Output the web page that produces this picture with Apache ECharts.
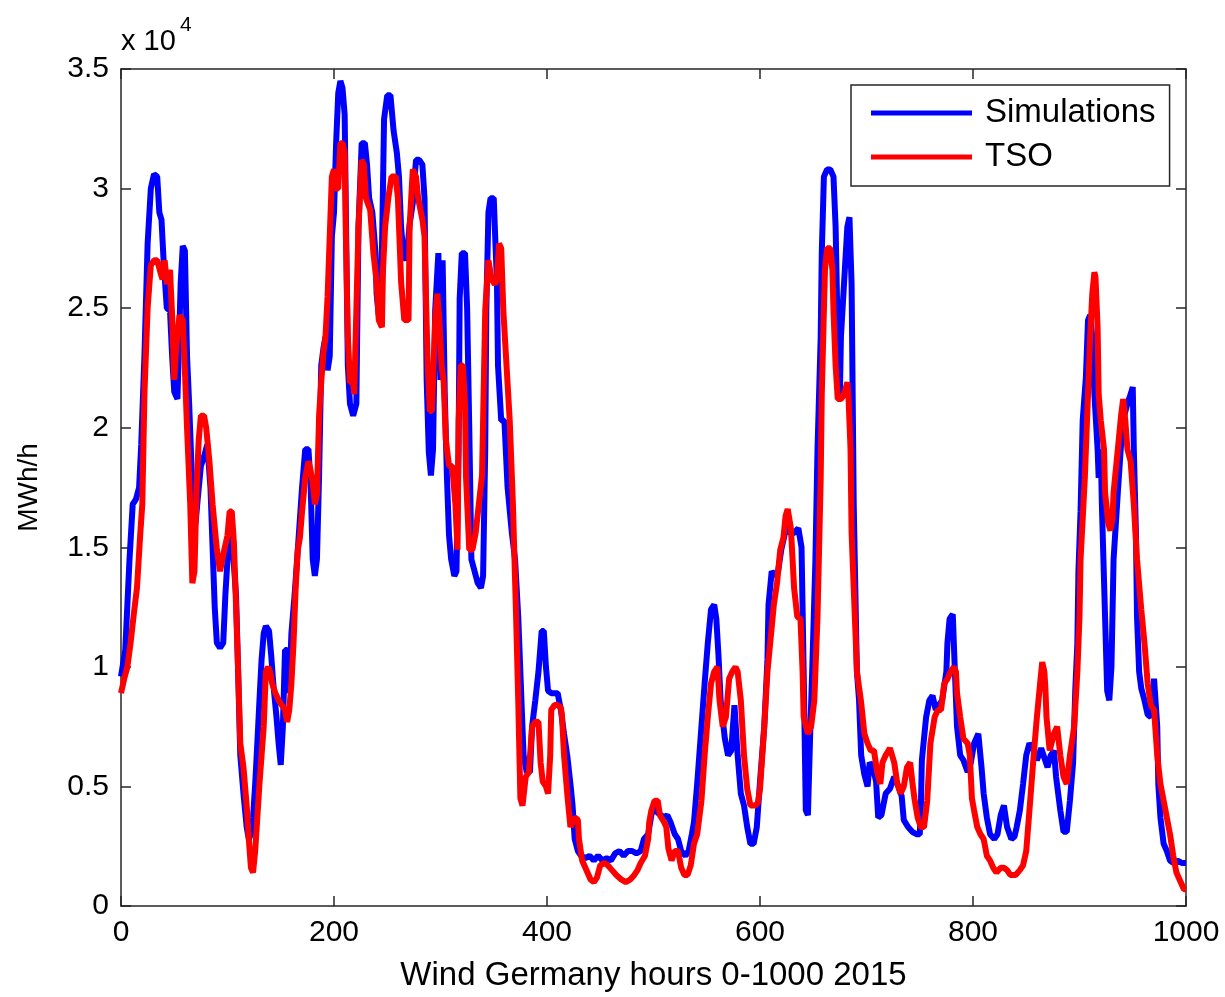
<!DOCTYPE html>
<html><head><meta charset="utf-8">
<script src="https://cdn.jsdelivr.net/npm/echarts/dist/echarts.min.js"></script>
<style>html,body{margin:0;padding:0;background:#fff}#c{width:1225px;height:997px}</style>
</head><body><div id="c"></div><script>
// x axis: hours; y axis: MWh/h in units of 10^4
const xTickValues = [0, 200, 400, 600, 800, 1000];
const yTickValues = [0, 0.5, 1, 1.5, 2, 2.5, 3, 3.5];
const seriesNames = ['Simulations', 'TSO'];

const simHours = [0,4,8,11,14,17,19,22,25,28,31,34,36,38,40,43,46,48,50,53,56,58,60,62,64,66,68,70,72,75,78,81,84,86,88,90,93,96,98,100,
103,105,108,110,112,115,118,120,122,124,126,128,130,132,134,136,139,141,143,146,148,150,152,154,156,158,160,163,166,170,173,176,178,180,182,184,186,188,190,192,194,196,198,200,
202,204,206,208,210,211,213,215,218,221,223,226,229,231,233,236,239,240,242,244,245,247,250,253,256,259,261,263,265,268,271,274,277,280,283,285,287,289,291,293,295,298,
300,302,304,306,308,310,313,315,317,318,320,323,325,327,329,332,335,338,340,342,343,345,347,350,351,353,354,357,360,363,367,370,373,376,378,381,384,386,389,392,395,397,399,
401,404,407,410,413,416,419,422,424,426,429,432,436,440,444,448,452,456,460,464,468,472,476,480,484,488,491,495,498,
501,504,507,510,513,516,520,523,526,530,533,536,538,541,545,548,551,554,557,559,561,563,567,570,573,576,579,582,585,588,591,594,597,
600,604,607,608,611,614,617,620,623,625,628,632,636,639,641,643,645,647,649,652,654,657,658,660,663,666,669,671,673,675,676,679,682,684,686,688,690,691,693,695,698,
701,703,706,709,711,714,718,722,726,730,733,735,739,743,747,750,751,752,756,759,762,765,768,771,775,776,778,781,783,785,788,791,795,798,
801,805,808,810,813,816,820,823,826,829,832,836,839,841,844,847,850,853,857,860,864,867,870,873,876,878,882,885,888,891,894,896,898,899,
901,903,906,908,910,912,914,917,918,920,921,924,926,928,930,932,936,939,942,945,948,950,951,953,954,956,958,961,964,967,970,973,974,976,979,982,985,988,992,996,1000];
const simValues = [0.96,1.07,1.45,1.68,1.70,1.75,1.93,2.30,2.77,3.00,3.06,3.05,2.90,2.87,2.70,2.50,2.49,2.30,2.15,2.12,2.60,2.76,2.74,2.30,2.10,1.86,1.60,1.60,1.70,1.84,1.88,1.93,1.75,1.50,1.25,1.10,1.08,1.10,1.30,1.45,
1.58,1.49,1.30,0.98,0.63,0.47,0.33,0.28,0.30,0.37,0.51,0.68,0.86,1.03,1.14,1.17,1.15,1.05,0.93,0.79,0.68,0.59,0.75,1.07,1.07,0.89,1.14,1.30,1.49,1.75,1.91,1.91,1.77,1.45,1.38,1.45,1.80,2.26,2.33,2.38,2.24,2.30,2.80,2.90,
3.19,3.40,3.45,3.42,3.31,2.96,2.26,2.10,2.05,2.10,2.84,3.19,3.19,3.10,2.96,2.90,2.73,2.56,2.47,2.50,2.73,3.29,3.39,3.39,3.24,3.15,3.05,2.84,2.73,2.70,2.85,2.94,3.12,3.12,3.10,2.96,2.20,1.90,1.80,1.91,2.49,2.73,
2.20,2.70,2.14,1.80,1.55,1.45,1.38,1.40,1.91,2.54,2.73,2.73,2.50,2.00,1.45,1.40,1.35,1.33,1.38,1.91,2.49,2.90,2.96,2.96,2.84,2.61,2.26,2.03,2.03,1.75,1.56,1.45,1.21,0.86,0.63,0.56,0.56,0.75,0.86,0.98,1.15,1.15,1.00,
0.90,0.89,0.89,0.89,0.82,0.72,0.63,0.51,0.42,0.28,0.23,0.21,0.20,0.21,0.19,0.21,0.19,0.20,0.19,0.22,0.23,0.21,0.23,0.23,0.22,0.23,0.28,0.30,0.38,
0.42,0.39,0.38,0.37,0.38,0.35,0.30,0.28,0.23,0.21,0.23,0.30,0.35,0.51,0.75,0.93,1.10,1.24,1.26,1.20,1.05,0.86,0.70,0.63,0.65,0.84,0.63,0.47,0.42,0.33,0.26,0.26,0.33,
0.52,0.75,1.03,1.26,1.40,1.38,1.40,1.49,1.55,1.60,1.56,1.56,1.58,1.50,0.98,0.40,0.38,0.70,0.98,1.44,1.91,2.38,2.73,3.05,3.08,3.08,3.05,2.84,2.38,2.14,2.38,2.61,2.84,2.88,2.60,1.68,1.21,0.98,0.86,0.63,0.55,
0.50,0.60,0.58,0.52,0.37,0.38,0.47,0.49,0.54,0.50,0.46,0.36,0.33,0.31,0.30,0.30,0.40,0.61,0.79,0.86,0.88,0.82,0.84,0.86,0.98,1.10,1.20,1.22,0.98,0.75,0.63,0.61,0.56,0.60,
0.68,0.72,0.58,0.47,0.37,0.30,0.28,0.30,0.38,0.42,0.33,0.28,0.29,0.33,0.40,0.51,0.63,0.68,0.65,0.61,0.66,0.62,0.58,0.63,0.65,0.54,0.40,0.31,0.31,0.44,0.60,0.90,1.10,1.40,
1.65,2.03,2.21,2.45,2.47,2.38,2.14,1.91,1.79,1.91,1.68,1.21,0.90,0.86,1.00,1.45,1.73,1.93,2.05,2.10,2.14,2.17,1.91,1.56,1.21,0.98,0.91,0.86,0.80,0.79,0.95,0.75,0.51,0.37,0.26,0.23,0.19,0.18,0.19,0.18,0.18];

const tsoHours = [0,3,6,9,12,15,18,20,22,25,28,31,34,37,39,41,43,46,48,50,52,55,58,60,62,65,67,69,71,73,75,78,80,83,86,90,93,97,100,
102,104,106,108,110,112,115,118,120,122,124,126,128,130,132,134,136,138,140,142,145,148,151,154,156,158,160,162,164,166,168,170,173,176,178,180,182,184,186,188,190,192,194,196,198,200,
202,204,206,208,210,211,213,215,218,219,221,223,226,228,230,234,237,240,242,245,246,248,251,254,258,260,262,263,266,270,271,274,277,279,283,285,286,288,290,292,295,297,299,
301,303,305,308,311,314,316,317,319,321,323,324,327,330,333,336,339,340,342,345,348,351,353,355,357,359,362,365,368,371,373,375,377,380,383,386,389,392,394,396,399,
401,403,404,407,410,413,414,416,419,422,426,429,430,433,438,441,444,447,450,454,457,461,465,470,474,478,482,485,488,492,495,496,498,
501,504,506,510,512,514,517,520,523,526,529,532,535,538,541,545,548,551,554,557,560,562,565,568,571,574,577,579,582,585,588,591,595,598,
600,604,607,610,613,616,619,622,624,626,629,632,635,638,640,641,645,648,651,654,657,658,660,661,663,666,668,669,671,673,676,679,682,683,685,686,688,690,691,695,698,
701,704,707,710,713,715,718,722,726,729,732,735,738,741,743,745,748,751,754,757,760,764,767,770,773,776,779,782,784,785,788,791,795,797,799,
801,804,807,810,813,816,819,822,826,829,832,835,840,844,847,850,853,857,860,863,865,867,868,869,872,876,879,882,885,888,891,895,898,900,
901,905,908,910,912,914,915,917,918,920,923,924,927,929,931,932,936,939,941,943,945,948,951,954,958,961,964,967,970,973,976,979,982,985,988,991,995,998,1000];
const tsoValues = [0.89,0.95,1.00,1.10,1.22,1.33,1.55,1.68,2.14,2.50,2.68,2.70,2.70,2.65,2.62,2.70,2.60,2.66,2.47,2.20,2.35,2.47,2.45,2.24,2.00,1.68,1.35,1.40,1.75,1.95,2.05,2.05,2.00,1.86,1.68,1.49,1.40,1.49,1.55,
1.65,1.65,1.52,1.26,0.98,0.68,0.58,0.42,0.28,0.16,0.14,0.23,0.37,0.51,0.63,0.75,0.98,1.00,0.98,0.93,0.89,0.86,0.84,0.82,0.77,0.82,0.93,1.10,1.33,1.49,1.54,1.65,1.79,1.86,1.82,1.77,1.68,1.72,2.05,2.19,2.31,2.38,2.55,2.80,3.05,3.08,
3.00,3.00,3.19,3.19,3.15,2.84,2.38,2.19,2.19,2.14,2.49,2.84,3.12,3.10,2.96,2.91,2.73,2.61,2.45,2.42,2.66,2.84,2.96,3.05,3.05,2.96,2.73,2.61,2.45,2.45,2.84,3.08,3.05,2.96,2.87,2.80,2.61,2.26,2.07,2.07,2.45,2.56,2.45,
2.26,2.19,1.95,1.84,1.84,1.68,1.49,2.03,2.26,2.26,2.10,1.79,1.49,1.49,1.56,1.68,1.80,2.03,2.49,2.70,2.62,2.60,2.62,2.77,2.75,2.49,2.26,2.03,1.68,1.21,0.86,0.45,0.42,0.54,0.56,0.75,0.77,0.77,0.60,0.52,0.50,
0.47,0.63,0.82,0.84,0.84,0.83,0.80,0.63,0.47,0.33,0.37,0.36,0.28,0.19,0.14,0.11,0.10,0.12,0.17,0.18,0.17,0.15,0.13,0.11,0.10,0.11,0.13,0.15,0.18,0.21,0.28,0.35,0.40,
0.44,0.44,0.38,0.35,0.33,0.24,0.19,0.23,0.23,0.16,0.13,0.13,0.17,0.26,0.30,0.44,0.63,0.79,0.93,0.98,1.00,0.86,0.75,0.79,0.95,0.98,1.00,0.98,0.86,0.63,0.49,0.42,0.42,0.43,
0.49,0.75,0.98,1.12,1.26,1.35,1.49,1.54,1.63,1.66,1.58,1.33,1.21,1.20,0.98,0.79,0.72,0.75,0.86,1.21,1.79,2.14,2.49,2.66,2.75,2.75,2.66,2.49,2.26,2.12,2.12,2.14,2.19,2.14,1.91,1.56,1.33,1.10,0.98,0.85,0.72,
0.68,0.65,0.65,0.56,0.51,0.60,0.63,0.66,0.60,0.51,0.47,0.50,0.58,0.60,0.52,0.45,0.37,0.33,0.33,0.44,0.68,0.79,0.82,0.82,0.93,0.95,0.98,1.00,0.98,0.89,0.79,0.70,0.68,0.63,0.45,
0.40,0.33,0.30,0.28,0.21,0.19,0.16,0.14,0.16,0.16,0.15,0.13,0.13,0.15,0.17,0.23,0.40,0.63,0.79,0.93,1.02,0.98,0.91,0.79,0.65,0.72,0.75,0.63,0.54,0.51,0.63,0.75,0.98,1.21,
1.45,1.79,2.14,2.38,2.56,2.65,2.63,2.42,2.14,2.03,1.91,1.73,1.60,1.57,1.62,1.73,1.91,2.05,2.12,2.03,1.91,1.86,1.68,1.45,1.24,1.10,0.93,0.84,0.82,0.63,0.51,0.44,0.37,0.30,0.21,0.14,0.10,0.07,0.07];

const simData = simHours.map((h, i) => [h, simValues[i]]);
const tsoData = tsoHours.map((h, i) => [h, tsoValues[i]]);

const FONT = 'Liberation Sans, Arial, sans-serif';
const AX = '#262626';
const chart = echarts.init(document.getElementById('c'), null, {renderer: 'canvas'});

function xAx(pos, labels) {
  return {
    type: 'value', position: pos, min: xTickValues[0], max: xTickValues[xTickValues.length - 1],
    interval: xTickValues[1] - xTickValues[0],
    axisLine: {show: true, onZero: false, lineStyle: {color: AX, width: 1.5}},
    axisTick: {show: true, inside: true, length: 10, lineStyle: {color: AX, width: 1.5}},
    axisLabel: {show: labels, fontSize: 30, color: '#000', fontFamily: FONT, margin: 12,
      formatter: v => String(v)},
    splitLine: {show: false}
  };
}
function yAx(pos, labels) {
  return {
    type: 'value', position: pos, min: yTickValues[0], max: yTickValues[yTickValues.length - 1],
    interval: yTickValues[1] - yTickValues[0],
    axisLine: {show: true, onZero: false, lineStyle: {color: AX, width: 1.5}},
    axisTick: {show: true, inside: true, length: 10, lineStyle: {color: AX, width: 1.5}},
    axisLabel: {show: labels, fontSize: 30, color: '#000', fontFamily: FONT, margin: 12,
      formatter: v => String(v)},
    splitLine: {show: false}
  };
}

const xMain = xAx('bottom', true);
xMain.name = 'Wind Germany hours 0-1000 2015';
xMain.nameLocation = 'middle';
xMain.nameGap = 53;
xMain.nameTextStyle = {fontSize: 33, color: '#000', fontFamily: FONT};
const yMain = yAx('left', true);
yMain.name = 'MWh/h';
yMain.nameLocation = 'middle';
yMain.nameGap = 78;
yMain.nameRotate = 90;
yMain.nameTextStyle = {fontSize: 28, color: '#000', fontFamily: FONT};

chart.setOption({
  animation: false,
  backgroundColor: '#fff',
  grid: {left: 121, right: 39, top: 69, bottom: 91, containLabel: false},
  xAxis: [xMain, xAx('top', false)],
  yAxis: [yMain, yAx('right', false)],
  legend: {
    data: seriesNames,
    orient: 'vertical', left: 851, top: 85,
    icon: 'rect', itemWidth: 101, itemHeight: 5, itemGap: 8,
    padding: [10, 14, 11, 20],
    backgroundColor: '#fff', borderColor: AX, borderWidth: 1.5,
    textStyle: {fontSize: 33, color: '#000', fontFamily: FONT, lineHeight: 36, padding: [0, 0, 0, 8]}
  },
  graphic: [
    {type: 'text', left: 121, top: 27, style: {text: 'x 10', fontSize: 29, fontFamily: FONT, fill: '#000'}},
    {type: 'text', left: 180, top: 15, style: {text: '4', fontSize: 21, fontFamily: FONT, fill: '#000'}}
  ],
  series: [
    {name: seriesNames[0], type: 'line', data: simData, showSymbol: false, symbol: 'none',
     lineStyle: {color: '#0000ff', width: 6}, itemStyle: {color: '#0000ff'}, z: 2},
    {name: seriesNames[1], type: 'line', data: tsoData, showSymbol: false, symbol: 'none',
     lineStyle: {color: '#ff0000', width: 6}, itemStyle: {color: '#ff0000'}, z: 3}
  ]
});
</script></body></html>
